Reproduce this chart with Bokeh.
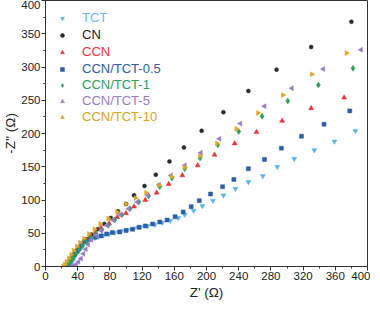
import numpy as np
from bokeh.plotting import figure
from bokeh.models import Range1d, SingleIntervalTicker, Legend, LegendItem
from bokeh.embed import file_html
from bokeh.resources import INLINE

series_names = ["TCT", "CN", "CCN", "CCN/TCT-0.5", "CCN/TCT-1", "CCN/TCT-5", "CCN/TCT-10"]

tct_x = [30, 32, 34, 36, 38, 40, 42, 45, 48, 52, 56, 61, 66, 72, 79, 86, 94, 102, 110, 118, 127, 136, 145, 155, 165, 173, 184, 195, 208, 221, 236, 252, 270, 288, 309, 334, 359, 385]
tct_y = [0, 4, 9, 14, 19, 24, 28, 33, 36, 39, 41, 43, 45, 47, 49, 51, 53, 55, 57, 59, 61, 63, 66, 69, 73, 78, 84, 91, 99, 107, 117, 127, 136, 150, 162, 175, 188, 204]

cn_x = [25, 28, 31, 35, 39, 44, 50, 57, 65, 73, 81, 90, 100, 110, 123, 137, 154, 172, 194, 221, 252, 287, 330, 380]
cn_y = [0, 5, 11, 18, 25, 33, 41, 48, 56, 64, 73, 83, 94, 107, 121, 138, 158, 179, 204, 232, 264, 296, 330, 368]

ccn_x = [25, 28, 31, 35, 39, 44, 49, 55, 62, 69, 79, 89, 100, 110, 124, 138, 153, 170, 189, 210, 235, 262, 294, 330, 371]
ccn_y = [0, 5, 10, 17, 24, 31, 38, 44, 51, 58, 65, 74, 80, 90, 100, 111, 124, 137, 152, 168, 185, 202, 219, 238, 254]

t05_x = [26, 28, 30, 33, 36, 39, 42, 45, 48, 54, 62, 69, 76, 83, 92, 100, 108, 116, 124, 133, 142, 151, 161, 171, 181, 191, 205, 220, 234, 252, 272, 293, 318, 346, 378]
t05_y = [1, 4, 8, 13, 18, 23, 28, 33, 38, 41, 44, 46, 49, 51, 52, 54, 56, 59, 61, 64, 67, 70, 75, 82, 90, 99, 109, 120, 131, 147, 161, 178, 196, 214, 234]

t1_x = [25, 28, 31, 34, 38, 42, 46, 51, 57, 63, 70, 78, 86, 95, 105, 116, 128, 142, 157, 173, 192, 214, 240, 269, 301, 339, 382]
t1_y = [0, 4, 8, 13, 19, 25, 31, 37, 43, 49, 55, 62, 70, 78, 87, 97, 106, 120, 133, 147, 163, 183, 203, 226, 249, 273, 298]

t5_x = [32, 35, 38, 41, 44, 47, 50, 53, 57, 63, 69, 76, 84, 93, 103, 114, 127, 141, 156, 173, 193, 216, 242, 272, 306, 345, 392]
t5_y = [0, 1, 3, 7, 12, 19, 26, 33, 40, 47, 54, 62, 70, 78, 87, 97, 107, 123, 137, 152, 171, 192, 215, 241, 268, 297, 326]

t10_x = [22, 24, 26, 29, 32, 35, 39, 43, 48, 54, 61, 68, 78, 89, 100, 112, 125, 141, 157, 173, 192, 213, 237, 264, 295, 331, 374]
t10_y = [0, 3, 7, 12, 18, 24, 30, 36, 42, 49, 56, 64, 72, 82, 94, 103, 111, 122, 135, 149, 166, 185, 207, 231, 258, 289, 321]

xs = [tct_x, cn_x, ccn_x, t05_x, t1_x, t5_x, t10_x]
ys = [tct_y, cn_y, ccn_y, t05_y, t1_y, t5_y, t10_y]
colors = ["#5ab4e6", "#2a2a2a", "#e8323a", "#2d5ca8", "#2aa05c", "#9a7cc4", "#dca824"]
text_colors = ["#6cbbe4", "#222222", "#e8323a", "#2d5ca8", "#2aa05c", "#9a7cc4", "#d9a520"]
markers = ["inverted_triangle", "circle", "triangle", "square", "diamond", "triangle", "triangle"]
angles = [0, 0, 0, 0, 0, np.pi / 2, -np.pi / 2]
sizes = [5, 4, 5, 4, 6, 5, 5]

FONT = "Liberation Sans"

p = figure(width=370, height=302, output_backend="svg", toolbar_location=None,
           x_range=Range1d(0, 400), y_range=Range1d(0, 400),
           min_border_left=30, min_border_right=3, min_border_top=0, min_border_bottom=30)

p.xgrid.visible = False
p.ygrid.visible = False
p.outline_line_color = "#333333"
p.outline_line_width = 1

p.xaxis.ticker = SingleIntervalTicker(interval=40, num_minor_ticks=2)
p.yaxis.ticker = SingleIntervalTicker(interval=50, num_minor_ticks=2)
for ax in (p.xaxis, p.yaxis):
    ax.axis_line_color = "#333333"
    ax.major_tick_line_color = "#333333"
    ax.minor_tick_line_color = "#333333"
    ax.major_tick_out = 4
    ax.major_tick_in = 0
    ax.minor_tick_out = 2
    ax.minor_tick_in = 0
    ax.major_label_text_font = FONT
    ax.major_label_text_font_size = "11.5px"
    ax.major_label_text_color = "#222222"
    ax.axis_label_text_font = FONT
    ax.axis_label_text_font_size = "13.5px"
    ax.axis_label_text_font_style = "normal"
    ax.axis_label_text_color = "#222222"
    ax.major_label_standoff = 1
p.xaxis.axis_label = "Z' (Ω)"
p.yaxis.axis_label = "-Z'' (Ω)"
p.xaxis.axis_label_standoff = 2
p.yaxis.axis_label_standoff = 0

renderers = []
for i, name in enumerate(series_names):
    r = p.scatter(xs[i], ys[i], marker=markers[i], angle=angles[i], size=sizes[i],
                  fill_color=colors[i], line_color=colors[i], line_width=0.5)
    renderers.append(r)

row_centers = [248, 231, 214, 197, 181, 165, 149]
for i, name in enumerate(series_names):
    lg = Legend(items=[LegendItem(label=name, renderers=[renderers[i]])],
                location=(12, row_centers[i] - 7),
                label_text_font=FONT, label_text_font_size="13px",
                label_text_color=text_colors[i],
                glyph_width=10, glyph_height=14, label_height=14,
                label_standoff=15, padding=0, spacing=0, margin=0,
                border_line_color=None, background_fill_alpha=0)
    p.add_layout(lg, "center")

open("out.html", "w").write(file_html(p, INLINE))
